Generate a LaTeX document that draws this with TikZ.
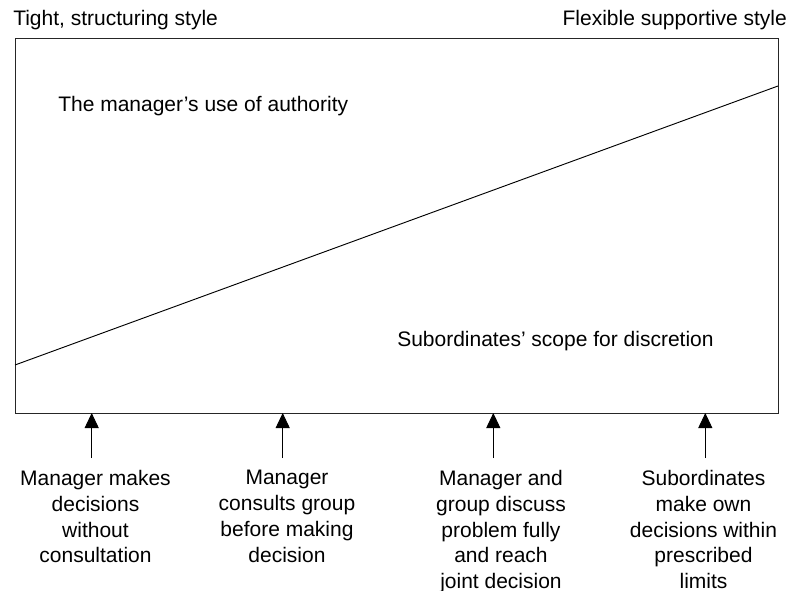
\documentclass[tikz,border=0pt]{standalone}
\usepackage{fontspec}
\setmainfont{Liberation Sans}
\usetikzlibrary{arrows.meta}
\begin{document}
\begin{tikzpicture}[x=0.75pt,y=-0.75pt,
  txt/.style={inner sep=0pt,font=\fontsize{15.75}{19.35}\selectfont},
  lbl/.style={txt,align=center,anchor=north},
  boxline/.style={line width=0.9pt,draw=black!85},
  diag/.style={line width=0.7pt},
  arr/.style={line width=0.7pt,-{Triangle[length=11.25pt,width=10.5pt]}}]
\useasboundingbox (0,0) rectangle (803,591);
\node[boxline,rectangle,minimum width=763*0.75pt,minimum height=375*0.75pt,inner sep=0pt,anchor=north west] (box) at (15,38) {};
\coordinate (dl) at (15,365);
\coordinate (dr) at (778,86);
\draw[diag] (dl) -- (dr);
\node[txt,anchor=base west] (tl) at (13,26) {Tight, structuring style};
\node[txt,anchor=base east] (tr) at (787,26) {Flexible supportive style};
\node[txt,anchor=base west] (auth) at (58,112) {The manager’s use of authority};
\node[txt,anchor=base west] (disc) at (397,347) {Subordinates’ scope for discretion};
\foreach \i/\x in {1/91.7,2/282.7,3/493.3,4/705.3}{
  \coordinate (s\i) at (\x,458);
  \coordinate (t\i) at (\x,413);
  \draw[arr] (s\i) -- (t\i);
}
\node[lbl] (l1) at (95.5,470) {Manager makes\\decisions\\without\\consultation};
\node[lbl] (l2) at (287,470) {Manager\\consults group\\before making\\decision};
\node[lbl] (l3) at (501,470) {Manager and\\group discuss\\problem fully\\and reach\\joint decision};
\node[lbl] (l4) at (703.5,470) {Subordinates\\make own\\decisions within\\prescribed\\limits};
\end{tikzpicture}
\end{document}
